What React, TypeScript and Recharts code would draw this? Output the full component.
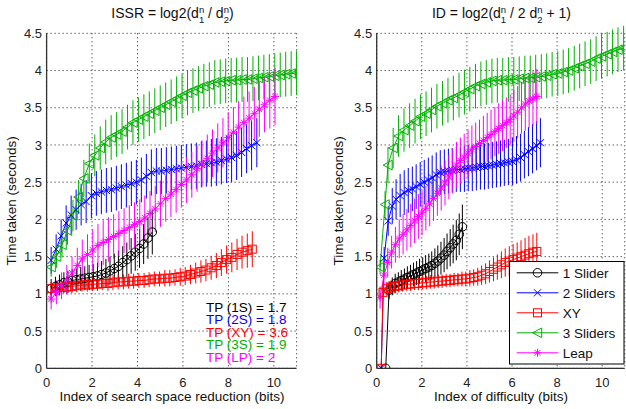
import React from 'react';
import { ComposedChart, Line, XAxis, YAxis, CartesianGrid, ErrorBar } from 'recharts';

const FONT = '"Liberation Sans", Arial, Helvetica, sans-serif';
const BLACK = '#000000';
const BLUE = '#0000ff';
const RED = '#ff0000';
const GREEN = '#00b000';
const MAGENTA = '#ff00ff';

const xTicks = [0, 2, 4, 6, 8, 10];
const yTicks = [0, 0.5, 1, 1.5, 2, 2.5, 3, 3.5, 4, 4.5];

// ---------- Left panel: ISSR ----------
const issrSlider1X = [0.20,0.39,0.57,0.76,0.94,1.13,1.31,1.50,1.68,1.87,2.05,2.24,2.42,2.61,2.79,2.98,3.16,3.35,3.53,3.72,3.90,4.09,4.27,4.46,4.65];
const issrSlider1Y = [1.07,1.10,1.12,1.15,1.16,1.18,1.19,1.20,1.21,1.22,1.23,1.24,1.26,1.28,1.31,1.34,1.37,1.42,1.46,1.51,1.56,1.61,1.67,1.75,1.83];
const issrSlider1E = [0.13,0.13,0.14,0.14,0.15,0.15,0.15,0.16,0.16,0.17,0.17,0.18,0.18,0.19,0.19,0.20,0.21,0.22,0.23,0.24,0.25,0.26,0.27,0.28,0.30];

const issrSlider2X = [0.20,0.42,0.64,0.86,1.08,1.30,1.52,1.74,1.97,2.19,2.41,2.63,2.85,3.07,3.29,3.51,3.73,3.95,4.17,4.39,4.61,4.83,5.05,5.27,5.49,5.71,5.93,6.15,6.37,6.59,6.81,7.03,7.25,7.47,7.69,7.92,8.14,8.36,8.58,8.80,9.02,9.25];
const issrSlider2Y = [1.45,1.60,1.78,1.95,2.06,2.13,2.20,2.24,2.32,2.35,2.37,2.39,2.40,2.42,2.44,2.46,2.48,2.50,2.53,2.58,2.63,2.65,2.65,2.66,2.67,2.68,2.69,2.70,2.71,2.72,2.74,2.75,2.76,2.77,2.79,2.81,2.83,2.86,2.90,2.95,2.99,3.03];
const issrSlider2E = [0.18,0.20,0.22,0.24,0.26,0.27,0.28,0.29,0.30,0.30,0.30,0.30,0.30,0.30,0.30,0.30,0.30,0.30,0.30,0.30,0.31,0.31,0.31,0.31,0.31,0.31,0.31,0.31,0.31,0.31,0.31,0.31,0.32,0.32,0.32,0.32,0.33,0.33,0.33,0.33,0.33,0.33];

const issrXYX = [0.20,0.43,0.65,0.88,1.11,1.33,1.56,1.79,2.02,2.24,2.47,2.70,2.92,3.15,3.38,3.61,3.83,4.06,4.29,4.51,4.74,4.97,5.20,5.42,5.65,5.88,6.10,6.33,6.56,6.79,7.01,7.24,7.47,7.69,7.92,8.15,8.38,8.60,8.83,9.05];
const issrXYY = [1.07,1.08,1.09,1.09,1.10,1.11,1.12,1.12,1.13,1.13,1.14,1.14,1.15,1.16,1.16,1.17,1.17,1.18,1.18,1.19,1.20,1.20,1.21,1.21,1.22,1.23,1.24,1.26,1.28,1.30,1.32,1.35,1.38,1.42,1.46,1.49,1.53,1.56,1.58,1.60];
const issrXYE = [0.09,0.09,0.09,0.09,0.09,0.09,0.09,0.09,0.09,0.09,0.09,0.10,0.10,0.10,0.10,0.10,0.10,0.10,0.10,0.10,0.10,0.10,0.11,0.11,0.11,0.12,0.12,0.13,0.14,0.15,0.15,0.16,0.17,0.18,0.19,0.20,0.21,0.22,0.23,0.24];

const issrSlider3X = [0.20,0.44,0.68,0.92,1.16,1.40,1.64,1.88,2.12,2.36,2.60,2.84,3.08,3.32,3.56,3.80,4.04,4.28,4.52,4.76,5.00,5.24,5.48,5.72,5.96,6.20,6.44,6.68,6.92,7.16,7.40,7.64,7.88,8.12,8.36,8.60,8.84,9.08,9.32,9.56,9.80,10.04,10.28,10.52,10.76,11.00];
const issrSlider3Y = [1.36,1.50,1.66,1.85,2.05,2.30,2.55,2.75,2.86,2.96,3.04,3.10,3.14,3.18,3.24,3.30,3.34,3.38,3.42,3.46,3.50,3.54,3.58,3.62,3.66,3.70,3.73,3.76,3.79,3.81,3.84,3.85,3.86,3.87,3.87,3.88,3.88,3.89,3.90,3.91,3.92,3.93,3.94,3.95,3.96,3.97];
const issrSlider3E = [0.13,0.15,0.17,0.19,0.21,0.23,0.25,0.27,0.28,0.29,0.30,0.30,0.30,0.30,0.30,0.30,0.30,0.30,0.30,0.30,0.30,0.30,0.30,0.30,0.30,0.30,0.30,0.30,0.30,0.30,0.30,0.30,0.30,0.30,0.30,0.30,0.30,0.30,0.30,0.30,0.30,0.30,0.30,0.30,0.30,0.30];

const issrLeapX = [0.20,0.43,0.66,0.89,1.12,1.35,1.57,1.80,2.03,2.26,2.49,2.72,2.95,3.18,3.41,3.64,3.87,4.10,4.32,4.55,4.78,5.01,5.24,5.47,5.70,5.93,6.16,6.39,6.62,6.84,7.07,7.30,7.53,7.76,7.99,8.22,8.45,8.68,8.91,9.14,9.36,9.59,9.82,10.05];
const issrLeapY = [0.93,1.02,1.11,1.19,1.28,1.38,1.47,1.53,1.59,1.65,1.69,1.73,1.77,1.81,1.85,1.89,1.93,1.97,2.02,2.08,2.14,2.21,2.28,2.34,2.40,2.47,2.53,2.60,2.68,2.75,2.82,2.89,2.96,3.03,3.10,3.17,3.24,3.30,3.36,3.42,3.48,3.54,3.60,3.65];
const issrLeapE = [0.14,0.16,0.18,0.20,0.22,0.24,0.26,0.27,0.28,0.29,0.30,0.30,0.30,0.30,0.30,0.30,0.30,0.30,0.30,0.30,0.31,0.31,0.31,0.31,0.31,0.31,0.31,0.31,0.31,0.31,0.32,0.32,0.33,0.33,0.34,0.34,0.35,0.35,0.36,0.36,0.37,0.37,0.38,0.38];

// ---------- Right panel: ID ----------
const idSlider1X = [0.40,0.55,0.69,0.82,0.96,1.09,1.23,1.36,1.50,1.63,1.77,1.90,2.04,2.17,2.31,2.44,2.58,2.71,2.85,2.99,3.12,3.26,3.39,3.53,3.66,3.80];
const idSlider1Y = [0,1.05,1.10,1.14,1.16,1.18,1.20,1.22,1.24,1.26,1.28,1.30,1.32,1.34,1.36,1.38,1.41,1.44,1.48,1.52,1.57,1.62,1.67,1.72,1.80,1.90];
const idSlider1E = [0,0.12,0.12,0.13,0.13,0.14,0.14,0.15,0.15,0.16,0.16,0.17,0.17,0.18,0.18,0.19,0.20,0.21,0.22,0.23,0.24,0.25,0.26,0.27,0.28,0.30];

const idSlider2X = [0.20,0.33,0.51,0.69,0.86,1.04,1.22,1.40,1.58,1.75,1.93,2.11,2.29,2.46,2.64,2.82,3.00,3.18,3.35,3.53,3.71,3.89,4.06,4.24,4.42,4.60,4.78,4.95,5.13,5.31,5.49,5.66,5.84,6.02,6.20,6.38,6.55,6.73,6.91,7.09,7.26];
const idSlider2Y = [0,1.48,1.98,2.18,2.27,2.32,2.36,2.39,2.41,2.44,2.47,2.50,2.53,2.56,2.60,2.63,2.64,2.65,2.66,2.67,2.67,2.68,2.69,2.69,2.70,2.71,2.71,2.72,2.73,2.74,2.75,2.76,2.77,2.78,2.80,2.83,2.87,2.91,2.95,2.99,3.03];
const idSlider2E = [0,0.15,0.20,0.24,0.27,0.29,0.30,0.30,0.30,0.30,0.30,0.30,0.30,0.30,0.30,0.30,0.30,0.30,0.30,0.30,0.30,0.31,0.31,0.31,0.31,0.31,0.31,0.31,0.31,0.31,0.31,0.31,0.31,0.32,0.32,0.32,0.32,0.33,0.33,0.33,0.33];

const idXYX = [0.20,0.28,0.45,0.63,0.80,0.98,1.15,1.33,1.50,1.68,1.85,2.03,2.20,2.38,2.55,2.73,2.90,3.08,3.25,3.43,3.60,3.78,3.95,4.13,4.30,4.48,4.65,4.83,5.00,5.18,5.35,5.53,5.70,5.88,6.05,6.23,6.40,6.58,6.75,6.93,7.10];
const idXYY = [0,1.02,1.07,1.09,1.10,1.11,1.12,1.13,1.13,1.14,1.14,1.15,1.15,1.16,1.16,1.17,1.17,1.18,1.18,1.19,1.19,1.20,1.20,1.21,1.22,1.23,1.25,1.27,1.30,1.33,1.36,1.39,1.42,1.44,1.46,1.48,1.50,1.52,1.54,1.56,1.57];
const idXYE = [0,0.09,0.09,0.09,0.09,0.09,0.09,0.09,0.09,0.09,0.09,0.09,0.09,0.09,0.09,0.09,0.09,0.09,0.09,0.09,0.09,0.10,0.10,0.11,0.11,0.12,0.13,0.14,0.15,0.16,0.17,0.18,0.19,0.20,0.21,0.21,0.22,0.23,0.24,0.24,0.25];

const idSlider3X = [0.15,0.37,0.50,0.73,0.97,1.21,1.46,1.70,1.94,2.19,2.43,2.67,2.92,3.16,3.40,3.65,3.89,4.13,4.38,4.62,4.86,5.11,5.35,5.59,5.84,6.08,6.32,6.57,6.81,7.05,7.30,7.54,7.78,8.03,8.27,8.51,8.76,9.00,9.24,9.49,9.73,9.97,10.22,10.46,10.70,10.95];
const idSlider3Y = [1.36,2.20,2.73,2.96,3.12,3.20,3.26,3.32,3.38,3.42,3.47,3.52,3.56,3.60,3.63,3.67,3.71,3.75,3.79,3.82,3.84,3.86,3.87,3.87,3.88,3.88,3.89,3.90,3.90,3.91,3.92,3.93,3.95,3.96,3.98,4.00,4.03,4.06,4.09,4.12,4.16,4.19,4.22,4.25,4.28,4.30];
const idSlider3E = [0.10,0.18,0.24,0.27,0.28,0.29,0.30,0.30,0.30,0.30,0.30,0.30,0.30,0.30,0.30,0.30,0.30,0.30,0.30,0.30,0.30,0.30,0.30,0.30,0.30,0.30,0.30,0.30,0.30,0.30,0.30,0.30,0.30,0.30,0.30,0.30,0.30,0.30,0.30,0.30,0.30,0.30,0.30,0.30,0.30,0.30];

const idLeapX = [0.15,0.32,0.49,0.66,0.83,1.00,1.17,1.34,1.51,1.68,1.85,2.01,2.18,2.35,2.52,2.69,2.86,3.03,3.20,3.37,3.54,3.71,3.88,4.05,4.22,4.39,4.56,4.73,4.90,5.07,5.24,5.41,5.58,5.75,5.92,6.08,6.25,6.42,6.59,6.76,6.93,7.10];
const idLeapY = [0.95,1.25,1.42,1.56,1.66,1.74,1.80,1.86,1.92,1.98,2.04,2.09,2.15,2.21,2.28,2.35,2.42,2.49,2.57,2.65,2.73,2.79,2.84,2.89,2.94,2.98,3.02,3.06,3.10,3.14,3.18,3.22,3.26,3.30,3.34,3.39,3.44,3.50,3.55,3.59,3.62,3.65];
const idLeapE = [0.15,0.18,0.20,0.22,0.24,0.26,0.27,0.28,0.29,0.30,0.30,0.30,0.30,0.30,0.30,0.30,0.30,0.30,0.30,0.30,0.31,0.31,0.31,0.32,0.32,0.32,0.32,0.33,0.33,0.33,0.33,0.34,0.34,0.34,0.34,0.35,0.35,0.35,0.36,0.36,0.37,0.37];

const seriesNames = ['1 Slider', '2 Sliders', 'XY', '3 Sliders', 'Leap'];
const throughputLabels = ['TP (1S) = 1.7', 'TP (2S) = 1.8', 'TP (XY) = 3.6', 'TP (3S) = 1.9', 'TP (LP) = 2'];

type Kind = 'circle' | 'x' | 'square' | 'tri' | 'star';
const kinds: Kind[] = ['circle', 'x', 'square', 'tri', 'star'];
const colors = [BLACK, BLUE, RED, GREEN, MAGENTA];

interface Series { name: string; color: string; kind: Kind; xs: number[]; ys: number[]; es: number[]; }

const makeSeries = (xsL: number[][], ysL: number[][], esL: number[][]): Series[] =>
  seriesNames.map((name, i) => ({ name, color: colors[i], kind: kinds[i], xs: xsL[i], ys: ysL[i], es: esL[i] }));

const issrSeries = makeSeries(
  [issrSlider1X, issrSlider2X, issrXYX, issrSlider3X, issrLeapX],
  [issrSlider1Y, issrSlider2Y, issrXYY, issrSlider3Y, issrLeapY],
  [issrSlider1E, issrSlider2E, issrXYE, issrSlider3E, issrLeapE],
);
const idSeries = makeSeries(
  [idSlider1X, idSlider2X, idXYX, idSlider3X, idLeapX],
  [idSlider1Y, idSlider2Y, idXYY, idSlider3Y, idLeapY],
  [idSlider1E, idSlider2E, idXYE, idSlider3E, idLeapE],
);

function Marker({ kind, cx, cy, color }: { kind: Kind; cx: number; cy: number; color: string }) {
  const s = { stroke: color, strokeWidth: 1, fill: 'none' };
  if (kind === 'circle') return <circle cx={cx} cy={cy} r={4.3} {...s} />;
  if (kind === 'square') return <rect x={cx - 4} y={cy - 4} width={8} height={8} {...s} />;
  if (kind === 'x') {
    const a = 3.6;
    return <path d={`M${cx - a} ${cy - a}L${cx + a} ${cy + a}M${cx - a} ${cy + a}L${cx + a} ${cy - a}`} {...s} />;
  }
  if (kind === 'tri') {
    return <path d={`M${cx - 4.8} ${cy}L${cx + 4.2} ${cy - 4.8}L${cx + 4.2} ${cy + 4.8}Z`} {...s} />;
  }
  const a = 4, b = 2.9;
  return (
    <path
      d={`M${cx - a} ${cy}L${cx + a} ${cy}M${cx} ${cy - a}L${cx} ${cy + a}M${cx - b} ${cy - b}L${cx + b} ${cy + b}M${cx - b} ${cy + b}L${cx + b} ${cy - b}`}
      {...s}
    />
  );
}

function Panel({ series, width, marginLeft, marginRight }: { series: Series[]; width: number; marginLeft: number; marginRight: number }) {
  const tickStyle = { fill: '#222', fontSize: 13, fontFamily: FONT };
  return (
    <ComposedChart width={width} height={409} margin={{ top: 33.3, right: marginRight, bottom: 10.7, left: marginLeft }}>
      <CartesianGrid stroke="#1a1a1a" strokeDasharray="1 3" />
      <XAxis
        type="number"
        dataKey="x"
        domain={[0, 11]}
        ticks={xTicks}
        interval={0}
        allowDataOverflow
        height={30}
        tickLine={false}
        tickSize={0}
        tickMargin={9}
        axisLine={{ stroke: '#333', strokeWidth: 1.3 }}
        tick={tickStyle}
      />
      <YAxis
        type="number"
        domain={[0, 4.5]}
        ticks={yTicks}
        interval={0}
        allowDataOverflow
        width={40}
        tickLine={false}
        tickSize={0}
        tickMargin={4.5}
        axisLine={{ stroke: '#333', strokeWidth: 1.3 }}
        tick={tickStyle}
      />
      {series.map((s) => (
        <Line
          key={s.name}
          name={s.name}
          data={s.xs.map((x, i) => ({ x, y: s.ys[i], e: s.es[i] }))}
          dataKey="y"
          stroke={s.color}
          strokeWidth={1}
          isAnimationActive={false}
          activeDot={false}
          dot={(p: any) =>
            p.cx == null || p.cy == null ? <g key={p.index} /> : <Marker key={p.index} kind={s.kind} cx={p.cx} cy={p.cy} color={s.color} />
          }
        >
          <ErrorBar dataKey="e" width={0} stroke={s.color} strokeWidth={1} direction="y" isAnimationActive={false} />
        </Line>
      ))}
    </ComposedChart>
  );
}

function Overlay() {
  const t = { fontFamily: FONT, fill: '#111' } as const;
  return (
    <svg width={626} height={409} style={{ position: 'absolute', left: 0, top: 0, pointerEvents: 'none' }}>
      {/* titles */}
      <text x={172.5} y={17.5} textAnchor="middle" fontSize={14} {...t}>
        ISSR = log2(d<tspan dy={-5} fontSize={9.5}>n</tspan>
        <tspan dx={-5.3} dy={10} fontSize={9.5}>1</tspan>
        <tspan dy={-5}> / d</tspan>
        <tspan dy={-5} fontSize={9.5}>n</tspan>
        <tspan dx={-5.3} dy={10} fontSize={9.5}>2</tspan>
        <tspan dy={-5}>)</tspan>
      </text>
      <text x={501.5} y={17.5} textAnchor="middle" fontSize={14} {...t}>
        ID = log2(d<tspan dy={-5} fontSize={9.5}>n</tspan>
        <tspan dx={-5.3} dy={10} fontSize={9.5}>1</tspan>
        <tspan dy={-5}> / 2 d</tspan>
        <tspan dy={-5} fontSize={9.5}>n</tspan>
        <tspan dx={-5.3} dy={10} fontSize={9.5}>2</tspan>
        <tspan dy={-5}> + 1)</tspan>
      </text>
      {/* y labels */}
      <text x={16.5} y={200.8} textAnchor="middle" fontSize={13.5} transform="rotate(-90 16.5 200.8)" {...t}>
        Time taken (seconds)
      </text>
      <text x={343} y={200.8} textAnchor="middle" fontSize={13.5} transform="rotate(-90 343 200.8)" {...t}>
        Time taken (seconds)
      </text>
      {/* x labels */}
      <text x={172} y={400.5} textAnchor="middle" fontSize={13.5} {...t}>
        Index of search space reduction (bits)
      </text>
      <text x={501} y={400.5} textAnchor="middle" fontSize={13.5} {...t}>
        Index of difficulty (bits)
      </text>
      {/* throughput annotations */}
      {throughputLabels.map((lab, i) => (
        <text key={lab} x={206} y={311.5 + i * 12.5} fontSize={13.5} fontFamily={FONT} fill={colors[i]}>
          {lab}
        </text>
      ))}
      {/* legend */}
      <rect x={509.5} y={261.5} width={114.5} height={102.5} fill="#fff" stroke="#000" strokeWidth={1} />
      {seriesNames.map((name, i) => {
        const cy = 272.8 + i * 20;
        return (
          <g key={name}>
            <line x1={516.7} x2={558.3} y1={cy} y2={cy} stroke={colors[i]} strokeWidth={1} />
            <Marker kind={kinds[i]} cx={537.5} cy={cy} color={colors[i]} />
            <text x={562.7} y={cy + 4.9} fontSize={13.5} {...t}>
              {name}
            </text>
          </g>
        );
      })}
    </svg>
  );
}

export default function App() {
  return (
    <div style={{ position: 'absolute', left: 0, top: 0, width: 626, height: 409, background: '#fff', overflow: 'hidden' }}>
      <div style={{ position: 'absolute', left: 0, top: 0 }}>
        <Panel series={issrSeries} width={310} marginLeft={6.6} marginRight={13.4} />
      </div>
      <div style={{ position: 'absolute', left: 310, top: 0 }}>
        <Panel series={idSeries} width={316} marginLeft={26.7} marginRight={1.25} />
      </div>
      <Overlay />
    </div>
  );
}
